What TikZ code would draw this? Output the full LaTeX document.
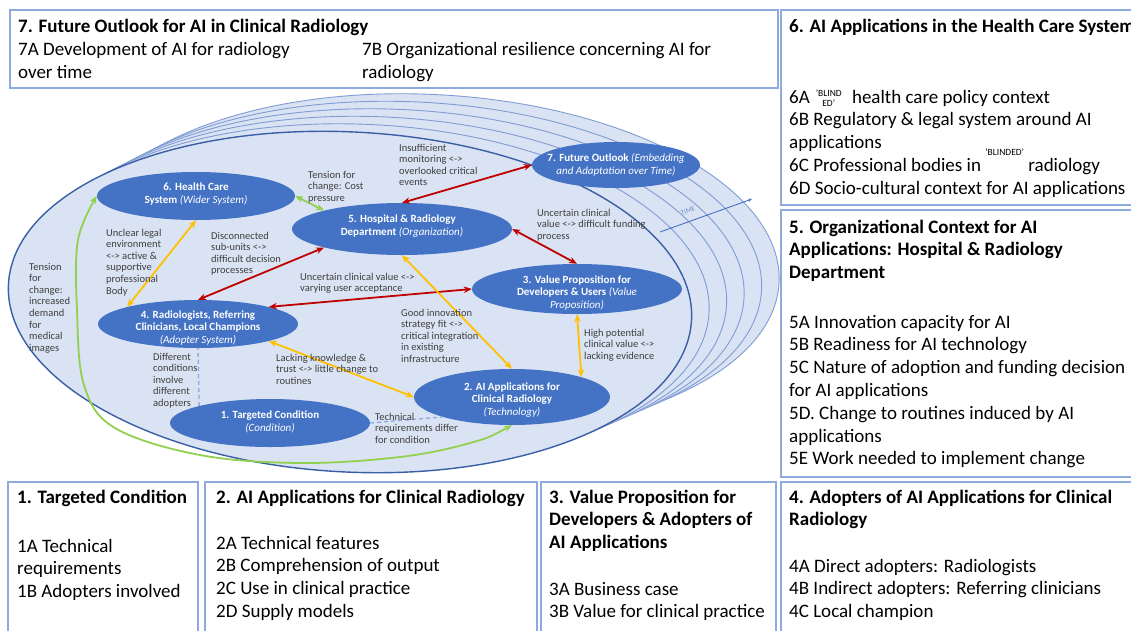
\documentclass[tikz,border=0pt]{standalone}
\usepackage{fontspec}
\setmainfont{Carlito}
\usetikzlibrary{shapes.geometric,arrows.meta}
\definecolor{boxline}{HTML}{8FAADC}
\definecolor{layerfill}{HTML}{DAE3F3}
\definecolor{layerline}{HTML}{7F9CD3}
\definecolor{frontline}{HTML}{3A5FA5}
\definecolor{nodeblue}{HTML}{4472C4}
\definecolor{arrred}{HTML}{C00000}
\definecolor{arryellow}{HTML}{FFC000}
\definecolor{arrgreen}{HTML}{92D050}
\definecolor{labelgray}{HTML}{3F3F3F}
\definecolor{dashblue}{HTML}{8FAADC}
\definecolor{timeblue}{HTML}{4472C4}
\begin{document}
\begin{tikzpicture}[x=1pt, y=-1pt, >={Stealth[length=8pt,width=6.5pt]},
  boxframe/.style={draw=boxline, line width=1.5pt},
  btitle/.style={font=\fontsize{19}{22.8}\selectfont\bfseries, anchor=base west, inner sep=0pt, align=left, text=black},
  btext/.style={font=\fontsize{19}{22.8}\selectfont, anchor=base west, inner sep=0pt, align=left, text=black},
  bubble/.style={ellipse, fill=nodeblue, inner sep=0pt},
  etext/.style={font=\fontsize{11}{12.7}\selectfont, text=white, align=center, inner sep=0pt},
  lab/.style={font=\fontsize{10.5}{11.6}\selectfont, anchor=base west, inner sep=0pt, align=left, text=labelgray},
  redline/.style={draw=arrred, line width=1.8pt, <->},
  yelline/.style={draw=arryellow, line width=1.8pt, <->},
  grnline/.style={draw=arrgreen, line width=1.8pt, <->},
  dashline/.style={draw=dashblue, line width=1.3pt, dash pattern=on 4pt off 3pt},
  backlayer/.style={fill=layerfill, draw=layerline, line width=0.9pt},
  frontlayer/.style={fill=layerfill, draw=frontline, line width=1.4pt}]
\useasboundingbox (0,0) rectangle (1131,630);
\clip (0,0) rectangle (1131,630);
\fill[white] (0,0) rectangle (1131,630);

% ---------- boxes ----------
\draw[boxframe] (10,10) rectangle (778,88);
\draw[boxframe] (781,10) rectangle (1140,205);
\draw[boxframe] (781,210) rectangle (1140,477);
\draw[boxframe] (8,482) rectangle (198,640);
\draw[boxframe] (205,482) rectangle (537,640);
\draw[boxframe] (541,482) rectangle (776,640);
\draw[boxframe] (781,482) rectangle (1140,640);

% multi-line nodes are placed at the baseline of their LAST line
\node[btitle] (t7) at (18,32) {7. Future Outlook for AI in Clinical Radiology};
\node[btext] (t7a) at (18,78) {7A Development of AI for radiology\\over time};
\node[btext] (t7b) at (362,78) {7B Organizational resilience concerning AI for\\radiology};

\node[btitle] (t6) at (789,32) {6. AI Applications in the Health Care System};
\node[btext] (t6i) at (789,194.2) {6A\hspace{6pt}\smash{\raisebox{-3pt}{\fontsize{9.5}{9.5}\selectfont\shortstack{'BLIND\\ED'}}}\hspace{6pt} health care policy context\\
6B Regulatory \& legal system around AI\\applications\\
6C Professional bodies in \smash{\raisebox{16pt}{\fontsize{9.5}{9.5}\selectfont 'BLINDED'}} radiology\\
6D Socio-cultural context for AI applications};

\node[btitle] (t5) at (789,278.6) {5. Organizational Context for AI\\Applications: Hospital \& Radiology\\Department};
\node[btext] (t5i) at (789,464.8) {5A Innovation capacity for AI\\5B Readiness for AI technology\\5C Nature of adoption and funding decision\\for AI applications\\5D. Change to routines induced by AI\\applications\\5E Work needed to implement change};

\node[btitle] (t1) at (17,503) {1. Targeted Condition};
\node[btext] (t1i) at (17,597.6) {1A Technical\\requirements\\1B Adopters involved};
\node[btitle] (t2) at (216,503) {2. AI Applications for Clinical Radiology};
\node[btext] (t2i) at (216,617.4) {2A Technical features\\2B Comprehension of output\\2C Use in clinical practice\\2D Supply models};
\node[btitle] (t3) at (549,548.6) {3. Value Proposition for\\Developers \& Adopters of\\AI Applications};
\node[btext] (t3i) at (549,617.8) {3A Business case\\3B Value for clinical practice};
\node[btitle] (t4) at (789,525.8) {4. Adopters of AI Applications for Clinical\\Radiology};
\node[btext] (t4i) at (789,617.6) {4A Direct adopters: Radiologists\\4B Indirect adopters: Referring clinicians\\4C Local champion};

% ---------- time layers ----------
\foreach \i in {5,4,3,2,1} {
  \draw[backlayer, rotate around={-3:({350+16*\i},{302-7.5*\i})}] ({350+16*\i},{302-7.5*\i}) ellipse [x radius={342+1.5*\i}, y radius=170];
}
\coordinate (timeS) at (660,232);
\coordinate (timeE) at (752,199);
\draw[draw=timeblue, line width=0.9pt, -{Stealth[length=4pt,width=3.5pt]}] (timeS) -- (timeE);
\node[font=\fontsize{7}{8}\selectfont, text=timeblue!80, rotate=20, inner sep=0pt] (timelab) at (688,211) {TIME};
\draw[frontlayer, rotate around={-3:(350,302)}] (350,302) ellipse [x radius=342, y radius=170];

% ---------- ellipse nodes ----------
\node[bubble, minimum width=198pt, minimum height=48pt] (n6) at (196,196) {};
\node[bubble, minimum width=220pt, minimum height=52pt] (n5) at (402,229) {};
\node[bubble, minimum width=168pt, minimum height=46pt] (n7) at (616,165) {};
\node[bubble, minimum width=210pt, minimum height=50pt] (n3) at (577,289) {};
\node[bubble, minimum width=200pt, minimum height=48pt] (n4) at (198,324) {};
\node[bubble, minimum width=196pt, minimum height=56pt] (n2) at (512,397) {};
\node[bubble, minimum width=200pt, minimum height=48pt] (n1) at (270,423) {};

\node[etext] (n6t) at (196,194) {\textbf{6. Health Care}\\\textbf{System} \textit{(Wider System)}};
\node[etext] (n5t) at (402,226) {\textbf{5. Hospital \& Radiology}\\\textbf{Department} \textit{(Organization)}};
\node[etext] (n7t) at (616,165) {\textbf{7. Future Outlook} \textit{(Embedding}\\\textit{and Adaptation over Time)}};
\node[etext] (n3t) at (577,293) {\textbf{3. Value Proposition for}\\\textbf{Developers \& Users} \textit{(Value}\\\textit{Proposition)}};
\node[etext] (n4t) at (198,328) {\textbf{4. Radiologists, Referring}\\\textbf{Clinicians, Local Champions}\\\textit{(Adopter System)}};
\node[etext] (n2t) at (512,400) {\textbf{2. AI Applications for}\\\textbf{Clinical Radiology}\\\textit{(Technology)}};
\node[etext] (n1t) at (270,422) {\textbf{1. Targeted Condition}\\\textit{(Condition)}};

% ---------- connectors ----------
\draw[redline] (n5.north) -- (n7.west);
\draw[redline] (n5.east) -- (n3.north);
\draw[redline] (n4.north) -- (n5.south west);
\draw[redline] (n4.north east) -- (n3.west);
\draw[yelline] (n6.south) -- (n4.north west);
\draw[yelline] (n5.south) -- (n2.north);
\draw[yelline] (n4.south east) -- (n2.west);
\draw[yelline] (n3.south) -- (n2.north east);
\draw[grnline] (n6.east) -- (n5.north west);
\draw[grnline] plot[smooth, tension=0.6] coordinates {(n2.south) (470,443) (400,457) (300,463) (200,455) (115,428) (84,385) (77,310) (78,240) (n6.west)};
\draw[dashline] (n1.north west) -- (n4.south);
\draw[dashline] (n1.east) -- (n2.south west);

% ---------- labels (anchored at last line baseline) ----------
\node[lab] (l65) at (308,201.2) {Tension for\\change: Cost\\pressure};
\node[lab] (l64) at (106,294) {Unclear legal\\environment\\<-> active \&\\supportive\\professional\\Body};
\node[lab] (l54) at (211,273.8) {Disconnected\\sub-units <->\\difficult decision\\processes};
\node[lab] (l62) at (29,351.2) {Tension\\for\\change:\\increased\\demand\\for\\medical\\images};
\node[lab] (l57) at (399,185.8) {Insufficient\\monitoring <->\\overlooked critical\\events};
\node[lab] (l53) at (537,239.2) {Uncertain clinical\\value <-> difficult funding\\process};
\node[lab] (l43) at (300,291.6) {Uncertain clinical value <->\\varying user acceptance};
\node[lab] (l52) at (401,362.4) {Good innovation\\strategy fit <->\\critical integration\\in existing\\infrastructure};
\node[lab] (l32) at (584,359.2) {High potential\\clinical value <->\\lacking evidence};
\node[lab] (l42) at (276,384.2) {Lacking knowledge \&\\trust <-> little change to\\routines};
\node[lab] (l41) at (153,406.4) {Different\\conditions\\involve\\different\\adopters};
\node[lab] (l12) at (375,443.2) {Technical\\requirements differ\\for condition};
\end{tikzpicture}
\end{document}
